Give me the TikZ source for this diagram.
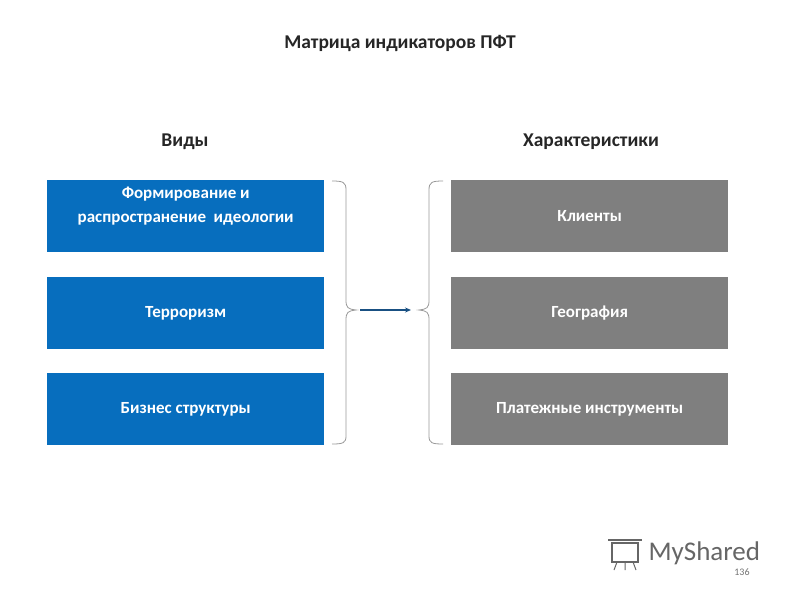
\documentclass[tikz,border=0pt]{standalone}
\usepackage{fontspec}
\usetikzlibrary{arrows.meta}
\setmainfont{Carlito}
\begin{document}
\begin{tikzpicture}[x=1pt,y=-1pt,
  bx/.style={minimum width=277pt,minimum height=72pt,inner sep=0pt,text=white,font=\bfseries\fontsize{17}{24}\selectfont,align=center,anchor=north west},
  blue box/.style={bx,fill=blueF},
  gray box/.style={bx,fill=grayF},
  hd/.style={font=\bfseries\fontsize{19.5}{23}\selectfont,text=black!85},
  br/.style={draw=black!40,line width=0.8pt}]
\definecolor{blueF}{RGB}{7,110,190}
\definecolor{grayF}{RGB}{127,127,127}
\definecolor{arr}{RGB}{25,80,130}
\useasboundingbox[fill=white] (0,0) rectangle (800,600);
\node[hd] (title) at (400,43) {Матрица индикаторов ПФТ};
\node[hd] (h1) at (185,142) {Виды};
\node[hd] (h2) at (591,142) {Характеристики};
\node[blue box,text depth=22pt] (b1) at (47,180) {Формирование и\\распространение\ \ идеологии};
\node[blue box] (b2) at (47,277) {Терроризм};
\node[blue box] (b3) at (47,373) {Бизнес структуры};
\node[gray box] (g1) at (451,180) {Клиенты};
\node[gray box] (g2) at (451,277) {География};
\node[gray box] (g3) at (451,373) {Платежные инструменты};
\draw[br] (332,181) .. controls (343,181) and (346,182) .. (346,190) -- (346,300) .. controls (346,308) and (348,309) .. (356,310)
  .. controls (348,311) and (346,312) .. (346,320) -- (346,436) .. controls (346,443) and (343,444) .. (332,444);
\draw[br] (443,181) .. controls (432,181) and (429,182) .. (429,190) -- (429,300) .. controls (429,308) and (427,309) .. (419,310)
  .. controls (427,311) and (429,312) .. (429,320) -- (429,436) .. controls (429,443) and (432,444) .. (443,444);
\coordinate (a1) at (360,310);
\coordinate (a2) at (411,310);
\draw[arr,line width=1.6pt,-{Stealth[length=6pt,width=5pt]}] (a1) -- (a2);
\node[text=black!60,font=\fontsize{27}{30}\selectfont,anchor=west] (ms) at (645,553) {MyShared};
\draw[black!60,line width=1.3pt] (612,543) rectangle (638,562);
\draw[black!60,line width=1.3pt] (608,540) -- (642,540);
\draw[black!60,line width=1pt] (617,562) -- (614,570) (625,562) -- (625,570) (633,562) -- (636,570);
\node[text=black!55,font=\fontsize{10}{12}\selectfont] (pg) at (742,572) {136};
\end{tikzpicture}
\end{document}
